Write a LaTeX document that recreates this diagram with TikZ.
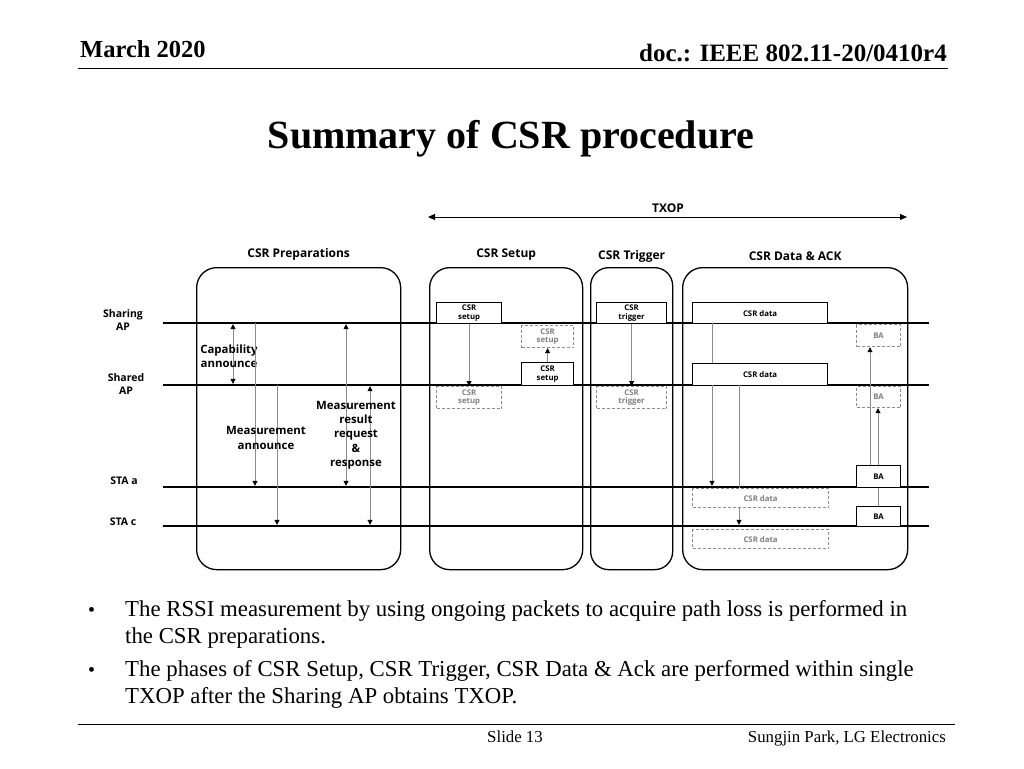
\documentclass[tikz,border=0pt]{standalone}
\usepackage{fontspec}
\setmainfont{Liberation Serif}
\newfontfamily\dsans{Open Sans}
\usetikzlibrary{arrows.meta}
\tikzset{
  phase/.style={draw, line width=1.3pt, rounded corners=20pt, anchor=north west, inner sep=0pt},
  phaselab/.style={font=\dsans\bfseries\fontsize{12}{14}\selectfont, inner sep=0pt},
  lifeline/.style={line width=2.6pt},
  lifelab/.style={font=\dsans\bfseries\fontsize{10.5}{13}\selectfont, align=center, inner sep=0pt},
  msglab/.style={font=\dsans\bfseries\fontsize{11.4}{14.3}\selectfont, align=center, inner sep=0pt},
  msg/.style={draw=black!45, line width=0.8pt, -{Triangle[width=5pt,length=5pt,color=black]}, shorten >=1.2pt},
  msgboth/.style={draw=black!45, line width=0.8pt, {Triangle[width=5pt,length=5pt,color=black]}-{Triangle[width=5pt,length=5pt,color=black]}, shorten >=1.2pt, shorten <=1.2pt},
  plain/.style={draw=black!45, line width=0.8pt},
  frame/.style={draw, line width=1.2pt, fill=white, anchor=north west, inner sep=0pt, align=center, font=\dsans\bfseries\fontsize{7.8}{8.8}\selectfont},
  ghost/.style={draw=black!45, dash pattern=on 3pt off 2pt, line width=1.2pt, fill=white, anchor=north west, inner sep=0pt, align=center, text=black!50, font=\dsans\bfseries\fontsize{7.8}{8.8}\selectfont},
  bul/.style={anchor=base west, inner sep=0pt, font=\fontsize{22.8}{27}\selectfont},
}
\begin{document}
\begin{tikzpicture}[x=1pt,y=-1pt]
\useasboundingbox[fill=white] (0,0) rectangle (1024,768);

% header
\node[anchor=base west, inner sep=0pt, font=\bfseries\fontsize{24.5}{28}\selectfont] (hdl) at (80,58) {March 2020};
\node[anchor=base east, inner sep=0pt, font=\bfseries\fontsize{25}{28}\selectfont] (hdr) at (947,62) {doc.: IEEE 802.11-20/0410r4};
\coordinate (h1) at (78,68); \coordinate (h2) at (948,68);
\draw[line width=1pt] (h1) -- (h2);

% title
\node[inner sep=0pt, font=\bfseries\fontsize{40}{44}\selectfont] (title) at (511,139) {Summary of CSR procedure};

% TXOP
\coordinate (tx1) at (428,217); \coordinate (tx2) at (907,217);
\draw[line width=0.9pt, {Triangle[width=6pt,length=7pt]}-{Triangle[width=6pt,length=7pt]}] (tx1) -- (tx2);
\node[phaselab, font=\dsans\bfseries\fontsize{12}{14}\selectfont] (txl) at (668,208) {TXOP};

% phases
\node[phase, minimum width=204pt, minimum height=302pt] (pp) at (196,267) {};
\node[phase, minimum width=153pt, minimum height=302pt] (ps) at (429,267) {};
\node[phase, minimum width=82pt, minimum height=302pt, rounded corners=18pt] (pt) at (590,267) {};
\node[phase, minimum width=225pt, minimum height=302pt] (pd) at (682,267) {};
\node[phaselab, yshift=13pt] (ppl) at (pp.north) {CSR Preparations};
\node[phaselab, yshift=12pt] (psl) at (ps.north) {CSR Setup};
\node[phaselab, yshift=11pt] (ptl) at (pt.north) {CSR Trigger};
\node[phaselab, yshift=11pt] (pdl) at (pd.north) {CSR Data \& ACK};

% lifelines
\coordinate (L1w) at (163,323); \coordinate (L1e) at (929,323);
\coordinate (L2w) at (163,385); \coordinate (L2e) at (929,385);
\coordinate (L3w) at (163,487); \coordinate (L3e) at (929,487);
\coordinate (L4w) at (163,526); \coordinate (L4e) at (929,526);
\draw[lifeline] (L1w) -- (L1e);
\draw[lifeline] (L2w) -- (L2e);
\draw[lifeline] (L3w) -- (L3e);
\draw[lifeline] (L4w) -- (L4e);
\node[lifelab] (n1) at (123,320) {Sharing\\AP};
\node[lifelab] (n2) at (126,384) {Shared\\AP};
\node[lifelab] (n3) at (124,481) {STA a};
\node[lifelab] (n4) at (123,522) {STA c};

% CSR preparations messages
\coordinate (ca1) at (233,323); \coordinate (ca2) at (233,385);
\draw[msgboth] (ca1) -- (ca2);
\node[msglab] (cal) at (229,356) {Capability\\announce};
\coordinate (ma1) at (255,323); \coordinate (ma2) at (255,487);
\coordinate (mb1) at (277,385); \coordinate (mb2) at (277,526);
\draw[msg] (ma1) -- (ma2);
\draw[msg] (mb1) -- (mb2);
\node[msglab] (mal) at (266,438) {Measurement\\announce};
\coordinate (mr1) at (346,323); \coordinate (mr2) at (346,487);
\coordinate (ms1) at (370,385); \coordinate (ms2) at (370,526);
\draw[msgboth] (mr1) -- (mr2);
\draw[msgboth] (ms1) -- (ms2);
\node[msglab] (mrl) at (356,435) {Measurement\\result\\request\\\&\\response};

% CSR setup
\node[frame, minimum width=65pt, minimum height=21pt] (s1) at (436,302) {CSR\\setup};
\node[ghost, minimum width=65pt, minimum height=22pt] (s1g) at (436,386) {CSR\\setup};
\node[ghost, minimum width=52pt, minimum height=22pt] (s2g) at (521,325) {CSR\\setup};
\node[frame, minimum width=52pt, minimum height=23pt] (s2) at (521,362) {CSR\\setup};
\draw[msg, shorten >=0pt] (s1.south) -- (s1g.north);
\draw[msg, shorten >=0pt] (s2.north) -- (s2g.south);

% CSR trigger
\node[frame, minimum width=70pt, minimum height=21pt] (t1) at (596,302) {CSR\\trigger};
\node[ghost, minimum width=70pt, minimum height=22pt] (t1g) at (596,386) {CSR\\trigger};
\draw[msg, shorten >=0pt] (t1.south) -- (t1g.north);

% CSR data & ACK
\coordinate (dx1) at (712,385); \coordinate (dx2) at (712,487);
\node[frame, minimum width=135pt, minimum height=21pt] (d1) at (692,302) {CSR data};
\node[frame, minimum width=135pt, minimum height=22pt] (d2) at (692,363) {CSR data};
\node[ghost, minimum width=136pt, minimum height=19pt] (d3g) at (692,488) {CSR data};
\node[ghost, minimum width=136pt, minimum height=19pt] (d4g) at (692,529) {CSR data};
\coordinate (d1a) at (712,323);
\draw[plain] (d1a) -- (d1a |- d2.north);
\draw[msg] (dx1) -- (dx2);
\coordinate (dy1) at (739,385);
\draw[plain] (dy1) -- (dy1 |- d3g.north);
\draw[msg, shorten >=1.2pt] (dy1 |- d3g.south) -- (dy1 |- L4w);

\node[ghost, minimum width=44pt, minimum height=22pt] (b1g) at (856,324) {BA};
\node[ghost, minimum width=44pt, minimum height=21pt] (b2g) at (856,386) {BA};
\coordinate (bx1) at (870,465); \coordinate (bx2) at (878,506);
\draw[msg, shorten >=0pt] (bx1) -- (bx1 |- b1g.south);
\draw[msg, shorten >=0pt] (bx2) -- (bx2 |- b2g.south);
\node[frame, minimum width=44pt, minimum height=22pt] (b3) at (856,465) {BA};
\node[frame, minimum width=44pt, minimum height=20pt] (b4) at (856,506) {BA};

% bullets
\node[bul, font=\fontsize{20}{27}\selectfont] (bu1) at (88,616) {•};
\node[bul] (t1a) at (125,616) {The RSSI measurement by using ongoing packets to acquire path loss is performed in};
\node[bul] (t1b) at (125,643) {the CSR preparations.};
\node[bul, font=\fontsize{20}{27}\selectfont] (bu2) at (88,676) {•};
\node[bul] (t2a) at (125,676) {The phases of CSR Setup, CSR Trigger, CSR Data \& Ack are performed within single};
\node[bul] (t2b) at (125,703) {TXOP after the Sharing AP obtains TXOP.};

% footer
\coordinate (f1) at (78,724); \coordinate (f2) at (955,724);
\draw[line width=1pt] (f1) -- (f2);
\node[anchor=base, inner sep=0pt, font=\fontsize{16.8}{20}\selectfont] (slide) at (515,742) {Slide 13};
\node[anchor=base east, inner sep=0pt, font=\fontsize{16.8}{20}\selectfont] (auth) at (946,742) {Sungjin Park, LG Electronics};
\end{tikzpicture}
\end{document}
